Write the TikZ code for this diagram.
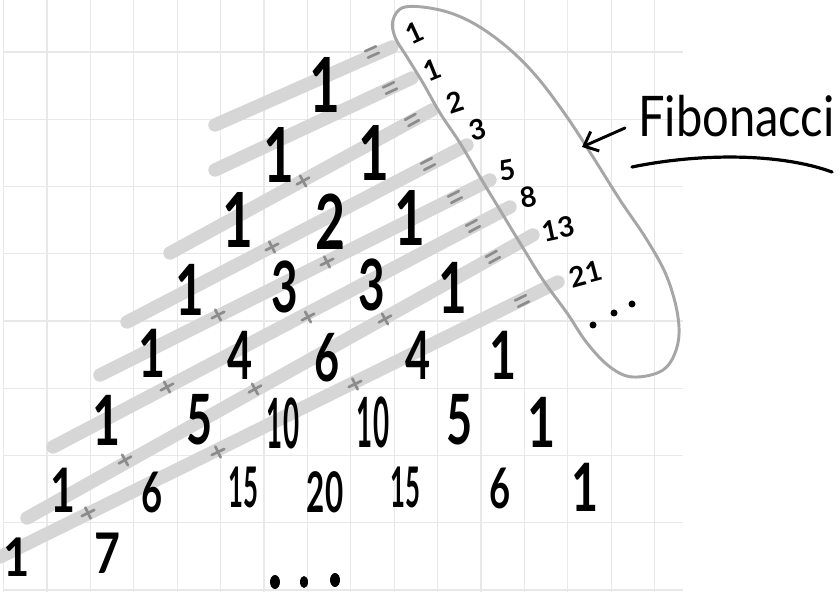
\documentclass[tikz,border=0pt]{standalone}
\usepackage{fontspec}
\setmainfont{Lato}
\usetikzlibrary{arrows.meta}
\newcommand\fsz[1]{\fontsize{#1}{#1}\selectfont}
\tikzset{
  gridline/.style={draw=black!9, line width=0.9pt},
  band/.style={draw=black!16, line width=10pt, line cap=round},
  markline/.style={draw=black!45, line width=2pt, line cap=round},
  loopline/.style={draw=black!35, line width=2.2pt},
  num/.style={inner sep=0pt, text=black},
  fib/.style={inner sep=0pt, text=black, font=\fsz{21}\bfseries},
  eqmark/.pic={\draw[markline] (-6,-3.5) -- (6,-3.5) (-6,3.5) -- (6,3.5);},
  plusmark/.pic={\draw[markline] (-7,0) -- (7,0) (0,-6) -- (0,6);},
}
\begin{document}
\begin{tikzpicture}[x=0.75pt,y=-0.75pt]
\useasboundingbox (0,0) rectangle (840,595);
\fill[white] (0,0) rectangle (840,595);
% grid
\foreach \i in {0,...,15} \draw[gridline] ({3.6+43.4*\i},0) -- ({3.6+43.4*\i},592);
\foreach \j in {0,...,8} \draw[gridline] (4,{52+67.25*\j}) -- (683,{52+67.25*\j});
% diagonal bands
\draw[band] (215,125) -- (392,47);
\draw[band] (215,170) -- (412,78);
\draw[band] (170,253) -- (432,110);
\draw[band] (127,322) -- (467,145);
\draw[band] (100,375) -- (490,180);
\draw[band] (53,447) -- (510,207);
\draw[band] (27,518) -- (533,235);
\draw[band] (0,557) -- (558,282);
% equals marks
\pic[rotate=24] at (372,52) {eqmark};
\pic[rotate=25] at (390,88) {eqmark};
\pic[rotate=29] at (412,120) {eqmark};
\pic[rotate=27] at (428,164) {eqmark};
\pic[rotate=27] at (455,197) {eqmark};
\pic[rotate=28] at (473,226) {eqmark};
\pic[rotate=29] at (493,257) {eqmark};
\pic[rotate=26] at (522,301) {eqmark};
% plus marks
\pic[rotate=29] at (303,181) {plusmark};
\pic[rotate=27] at (272,247) {plusmark};
\pic[rotate=27] at (218,315) {plusmark};
\pic[rotate=27] at (327,262) {plusmark};
\pic[rotate=28] at (167,387) {plusmark};
\pic[rotate=28] at (308,317) {plusmark};
\pic[rotate=29] at (125,460) {plusmark};
\pic[rotate=29] at (255,389) {plusmark};
\pic[rotate=29] at (385,319) {plusmark};
\pic[rotate=26] at (88,513) {plusmark};
\pic[rotate=26] at (218,452) {plusmark};
\pic[rotate=26] at (355,384) {plusmark};
% Pascal numbers
\begin{scope}[every node/.append style={num}]
\node[font=\fsz{57}\bfseries] (r0a) at (325,85) {\scalebox{0.7}[1]{1}};
\node[font=\fsz{57}\bfseries] (r1a) at (279,155) {\scalebox{0.7}[1]{1}};
\node[font=\fsz{57}\bfseries] (r1b) at (374,153) {\scalebox{0.7}[1]{1}};
\node[font=\fsz{57}\bfseries] (r2a) at (238,220) {\scalebox{0.7}[1]{1}};
\node[font=\fsz{57}\bfseries] (r2b) at (330,222) {\scalebox{0.68}[1]{2}};
\node[font=\fsz{57}\bfseries] (r2c) at (410,218) {\scalebox{0.7}[1]{1}};
\node[font=\fsz{53}\bfseries] (r3a) at (190,290) {\scalebox{0.7}[1]{1}};
\node[font=\fsz{53}\bfseries] (r3b) at (285,287) {\scalebox{0.65}[1]{3}};
\node[font=\fsz{53}\bfseries] (r3c) at (372,285) {\scalebox{0.65}[1]{3}};
\node[font=\fsz{53}\bfseries] (r3d) at (453,288) {\scalebox{0.7}[1]{1}};
\node[font=\fsz{50}\bfseries] (r4a) at (152,353) {\scalebox{0.7}[1]{1}};
\node[font=\fsz{50}\bfseries] (r4b) at (240,355) {\scalebox{0.65}[1]{4}};
\node[font=\fsz{50}\bfseries] (r4c) at (327,358) {\scalebox{0.65}[1]{6}};
\node[font=\fsz{50}\bfseries] (r4d) at (418,355) {\scalebox{0.65}[1]{4}};
\node[font=\fsz{50}\bfseries] (r4e) at (503,355) {\scalebox{0.7}[1]{1}};
\node[font=\fsz{52}\bfseries] (r5a) at (107,420) {\scalebox{0.7}[1]{1}};
\node[font=\fsz{52}\bfseries] (r5b) at (200,420) {\scalebox{0.65}[1]{5}};
\node[font=\fsz{52}\bfseries] (r5c) at (283,423) {\scalebox{0.4}[1]{10}};
\node[font=\fsz{52}\bfseries] (r5d) at (373,422) {\scalebox{0.4}[1]{10}};
\node[font=\fsz{52}\bfseries] (r5e) at (460,420) {\scalebox{0.65}[1]{5}};
\node[font=\fsz{52}\bfseries] (r5f) at (542,422) {\scalebox{0.7}[1]{1}};
\node[font=\fsz{46}\bfseries] (r6a) at (63,490) {\scalebox{0.7}[1]{1}};
\node[font=\fsz{42}\bfseries] (r6b) at (152,492) {\scalebox{0.65}[1]{6}};
\node[font=\fsz{42}\bfseries] (r6c) at (243,487) {\scalebox{0.46}[1]{15}};
\node[font=\fsz{42}\bfseries] (r6d) at (325,492) {\scalebox{0.56}[1]{20}};
\node[font=\fsz{42}\bfseries] (r6e) at (405,487) {\scalebox{0.46}[1]{15}};
\node[font=\fsz{42}\bfseries] (r6f) at (500,488) {\scalebox{0.65}[1]{6}};
\node[font=\fsz{50}\bfseries] (r6g) at (585,487) {\scalebox{0.7}[1]{1}};
\node[font=\fsz{40}\bfseries] (r7a) at (17,557) {\scalebox{0.85}[1]{1}};
\node[font=\fsz{42}\bfseries] (r7b) at (107,553) {\scalebox{0.8}[1]{7}};
\end{scope}
% bottom dots
\fill (275,582) ellipse [x radius=5, y radius=7];
\fill (304,582) ellipse [x radius=4, y radius=6];
\fill (335,580) ellipse [x radius=5, y radius=7];
% Fibonacci loop
\draw[loopline] plot[smooth cycle, tension=0.6] coordinates {
 (405,7) (440,10) (473,23) (507,47) (537,77) (567,117) (593,157) (620,200)
 (647,240) (667,277) (678,317) (677,347) (663,370) (633,377) (610,367)
 (587,343) (567,313) (543,280) (520,243) (500,210) (480,177) (460,143)
 (440,113) (423,83) (407,57) (395,37) (393,20)};
% Fibonacci numbers
\node[fib, rotate=25] (f1) at (415,33) {1};
\node[fib, rotate=22] (f2) at (432,70) {1};
\node[fib, rotate=18] (f3) at (455,102) {2};
\node[fib, rotate=15] (f4) at (478,130) {3};
\node[fib, rotate=10] (f5) at (507,170) {5};
\node[fib, rotate=10] (f6) at (528,197) {8};
\node[fib, rotate=12] (f7) at (558,229) {13};
\node[fib, rotate=15] (f8) at (586,274) {21};
\fill (593,325) circle (3.5);
\fill (614,313) circle (3.5);
\fill (632,304) circle (3.5);
% label
\node[inner sep=0pt, anchor=base west, font=\fsz{42}] (lab) at (638,137) {\scalebox{0.84}[1]{Fibonacci}};
\coordinate (arrS) at (625,128);
\coordinate (arrE) at (582,147);
\draw[line width=2.2pt, line cap=round, -{Straight Barb[length=9pt,width=16pt]}] (arrS) -- (arrE);
\coordinate (ulS) at (632,167);
\coordinate (ulE) at (832,172);
\draw[line width=2.4pt, line cap=round] (ulS) .. controls (700,153) and (780,153) .. (ulE);
\end{tikzpicture}
\end{document}
